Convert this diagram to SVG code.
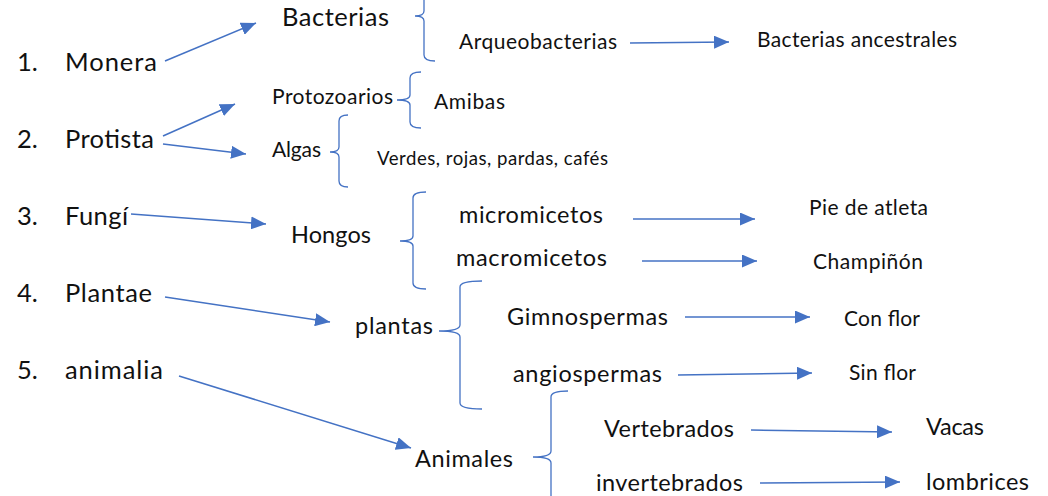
<svg xmlns="http://www.w3.org/2000/svg" width="1048" height="496" viewBox="0 0 1048 496">
<style>
text{font-family:Lato,"Liberation Sans",sans-serif;fill:#111;lengthAdjust:spacingAndGlyphs}
.xl{font-size:25.5px}
.l{font-size:23.5px}
.m{font-size:21px}
.s{font-size:18.6px}
.ar{fill:none;stroke:#4472C4;stroke-width:1.5;marker-end:url(#ah)}
.br{fill:none;stroke:#4472C4;stroke-width:1.3}
</style>
<defs>
<marker id="ah" viewBox="0 0 15 13" refX="15" refY="6.5" markerWidth="15" markerHeight="13" markerUnits="userSpaceOnUse" orient="auto">
<path d="M0,0 L15,6.5 L0,13 z" fill="#4472C4"/>
</marker>
</defs>
<rect width="1048" height="496" fill="#fff"/>
<g id="monera"><text class="xl" x="17" y="71">1.</text><text class="xl" x="65" y="71" textLength="92">Monera</text></g>
<g id="protista"><text class="xl" x="17" y="148">2.</text><text class="xl" x="65" y="148" textLength="89">Protista</text></g>
<g id="fungi"><text class="xl" x="17" y="225">3.</text><text class="xl" x="65" y="225" textLength="63">Fungí</text></g>
<g id="plantae"><text class="xl" x="17" y="302">4.</text><text class="xl" x="65" y="302" textLength="87">Plantae</text></g>
<g id="animalia"><text class="xl" x="17" y="379">5.</text><text class="xl" x="65" y="379" textLength="98">animalia</text></g>
<g id="bacterias"><text class="xl" x="282" y="26" textLength="107">Bacterias</text></g>
<g id="arqueobacterias"><text class="m" x="459" y="49" textLength="158">Arqueobacterias</text></g>
<g id="ancestrales"><text class="m" x="757" y="47" textLength="200">Bacterias ancestrales</text></g>
<g id="protozoarios"><text class="m" x="272" y="104" textLength="121">Protozoarios</text></g>
<g id="amibas"><text class="m" x="434" y="109" textLength="71">Amibas</text></g>
<g id="algas"><text class="m" x="272" y="157" textLength="49">Algas</text></g>
<g id="verdes"><text class="s" x="377" y="165" textLength="231">Verdes, rojas, pardas, cafés</text></g>
<g id="hongos"><text class="l" x="291" y="243" textLength="80">Hongos</text></g>
<g id="micromicetos"><text class="l" x="459" y="223" textLength="144">micromicetos</text></g>
<g id="macromicetos"><text class="l" x="456" y="266" textLength="151">macromicetos</text></g>
<g id="pie"><text class="m" x="809" y="215" textLength="119">Pie de atleta</text></g>
<g id="champinon"><text class="m" x="813" y="269" textLength="110">Champiñón</text></g>
<g id="plantas"><text class="l" x="355" y="334" textLength="78">plantas</text></g>
<g id="gimnospermas"><text class="l" x="507" y="325" textLength="161">Gimnospermas</text></g>
<g id="angiospermas"><text class="l" x="513" y="382" textLength="149">angiospermas</text></g>
<g id="conflor"><text class="m" x="844" y="326" textLength="76">Con flor</text></g>
<g id="sinflor"><text class="m" x="849" y="380" textLength="67">Sin flor</text></g>
<g id="animales"><text class="l" x="415" y="467" textLength="98">Animales</text></g>
<g id="vertebrados"><text class="l" x="604" y="437" textLength="130">Vertebrados</text></g>
<g id="invertebrados"><text class="l" x="596" y="491" textLength="147">invertebrados</text></g>
<g id="vacas"><text class="l" x="926" y="435" textLength="58">Vacas</text></g>
<g id="lombrices"><text class="l" x="926" y="490" textLength="103">lombrices</text></g>
<g id="connectors">
<line class="ar" x1="165" y1="61" x2="256" y2="23"/>
<line class="ar" x1="163" y1="136" x2="235" y2="104"/>
<line class="ar" x1="163" y1="144" x2="246" y2="154"/>
<line class="ar" x1="630" y1="43" x2="729" y2="42"/>
<line class="ar" x1="131" y1="214" x2="266" y2="224"/>
<line class="ar" x1="633" y1="219" x2="755" y2="219"/>
<line class="ar" x1="642" y1="261" x2="757" y2="261"/>
<line class="ar" x1="165" y1="297" x2="330" y2="322"/>
<line class="ar" x1="685" y1="317" x2="810" y2="317"/>
<line class="ar" x1="678" y1="375" x2="812" y2="373"/>
<line class="ar" x1="179" y1="376" x2="411" y2="448"/>
<line class="ar" x1="751" y1="430" x2="892" y2="432"/>
<line class="ar" x1="760" y1="483" x2="900" y2="482"/>
<path class="br" d="M435,-29 Q424,-29 424,-23 L424,11 Q424,16 415,16 Q424,16 424,21 L424,55 Q424,61 435,61"/>
<path class="br" d="M421,72 Q410,72 410,78 L410,95 Q410,100 397,100 Q410,100 410,105 L410,122 Q410,128 421,128"/>
<path class="br" d="M348,115 Q339,115 339,121 L339,147 Q339,152 330,152 Q339,152 339,157 L339,181 Q339,187 348,187"/>
<path class="br" d="M426,192 Q413,192 413,198 L413,236 Q413,241 400,241 Q413,241 413,246 L413,283 Q413,289 426,289"/>
<path class="br" d="M482,281 Q460,281 460,287 L460,325 Q460,331 439,331 Q460,331 460,337 L460,403 Q460,409 482,409"/>
<path class="br" d="M568,391 Q551,391 551,397 L551,451 Q551,457 533,457 Q551,457 551,463 L551,517 Q551,523 568,523"/>
</g>
</svg>
